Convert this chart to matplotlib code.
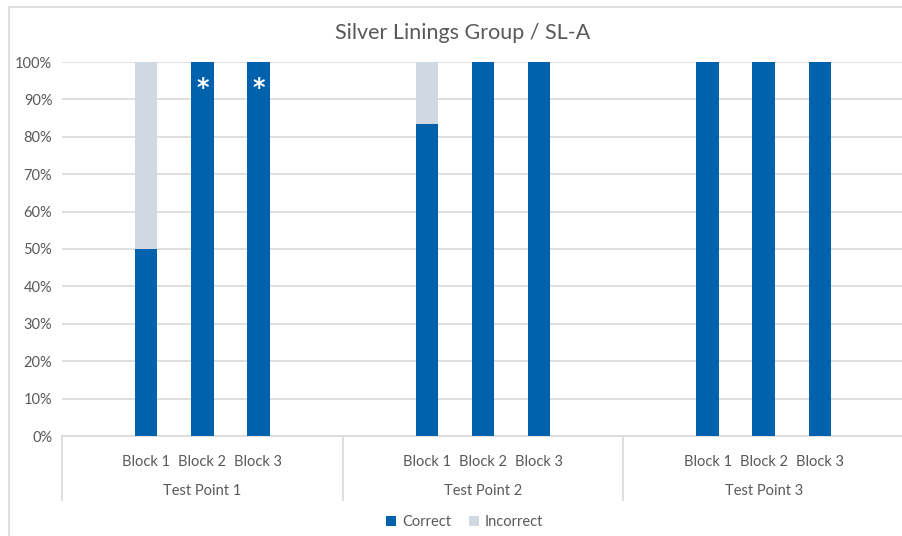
import matplotlib.pyplot as plt
from matplotlib.patches import Rectangle
from matplotlib.transforms import blended_transform_factory

plt.rcParams['font.family'] = ['Lato', 'DejaVu Sans']

groups = ['Test Point 1', 'Test Point 2', 'Test Point 3']
blocks = ['Block 1', 'Block 2', 'Block 3']
correct = [50, 100, 100, 83.3, 100, 100, 100, 100, 100]
incorrect = [50, 0, 0, 16.7, 0, 0, 0, 0, 0]
starred = [1, 2]  # bars marked with an asterisk

blue = '#0062AD'
grey = '#D0D8E2'
txt = '#595959'
line = '#D9D9D9'

# five slots per group, the outer two left empty
pos = []
for g in range(len(groups)):
    for b in range(len(blocks)):
        pos.append(g * 5 + 1 + b)

fig = plt.figure(figsize=(9.03, 5.36), dpi=100)
fig.patches.append(Rectangle((9 / 903, -0.01), 1.0, 1 - 7 / 536 + 0.01,
                             transform=fig.transFigure, fill=False,
                             edgecolor=line, linewidth=1.2))
ax = fig.add_axes([62 / 903, 100 / 536, 842 / 903, 374 / 536])

ax.bar(pos, correct, width=0.4, color=blue, label='Correct', zorder=3)
ax.bar(pos, incorrect, width=0.4, bottom=correct, color=grey,
       label='Incorrect', zorder=3)

for i in starred:
    ax.text(pos[i], 93, '*', color='white', ha='center', va='center',
            fontsize=17, fontweight='bold', family='DejaVu Sans', zorder=4)

ax.set_xlim(-0.5, 14.5)
ax.set_ylim(0, 100)
ax.set_yticks(range(0, 101, 10))
ax.set_yticklabels(['%d%%' % v for v in range(0, 101, 10)])
ax.yaxis.grid(True, color=line, linewidth=1.2, zorder=0)
ax.tick_params(axis='y', length=0, pad=7, colors=txt, labelsize=10.5)
for s in ['top', 'right', 'left']:
    ax.spines[s].set_visible(False)
ax.spines['bottom'].set_color(line)
ax.spines['bottom'].set_linewidth(1.2)

ax.set_xticks(pos)
ax.set_xticklabels(blocks * len(groups))
ax.tick_params(axis='x', length=0, pad=14, colors=txt, labelsize=10.5)

# group labels and dividers under the axis
tr = blended_transform_factory(ax.transData, ax.transAxes)
for g, name in enumerate(groups):
    ax.text(g * 5 + 2, -0.147, name, transform=tr, ha='center', va='center',
            color=txt, fontsize=10.5)
for x in [-0.5, 4.5, 9.5, 14.5]:
    ax.plot([x, x], [0, -0.17], transform=tr, color=line, linewidth=1.2,
            clip_on=False)

fig.text(463 / 903, 1 - 33 / 536, 'Silver Linings Group / SL-A', color=txt,
         fontsize=15.5, ha='center', va='center')

ax.legend(loc='center', bbox_to_anchor=(0.478, -0.23), ncol=2, frameon=False,
          fontsize=10.5, labelcolor=txt, handlelength=0.7, handleheight=0.7,
          handletextpad=0.4, columnspacing=1.2)

fig.savefig('out.png', dpi=100)
